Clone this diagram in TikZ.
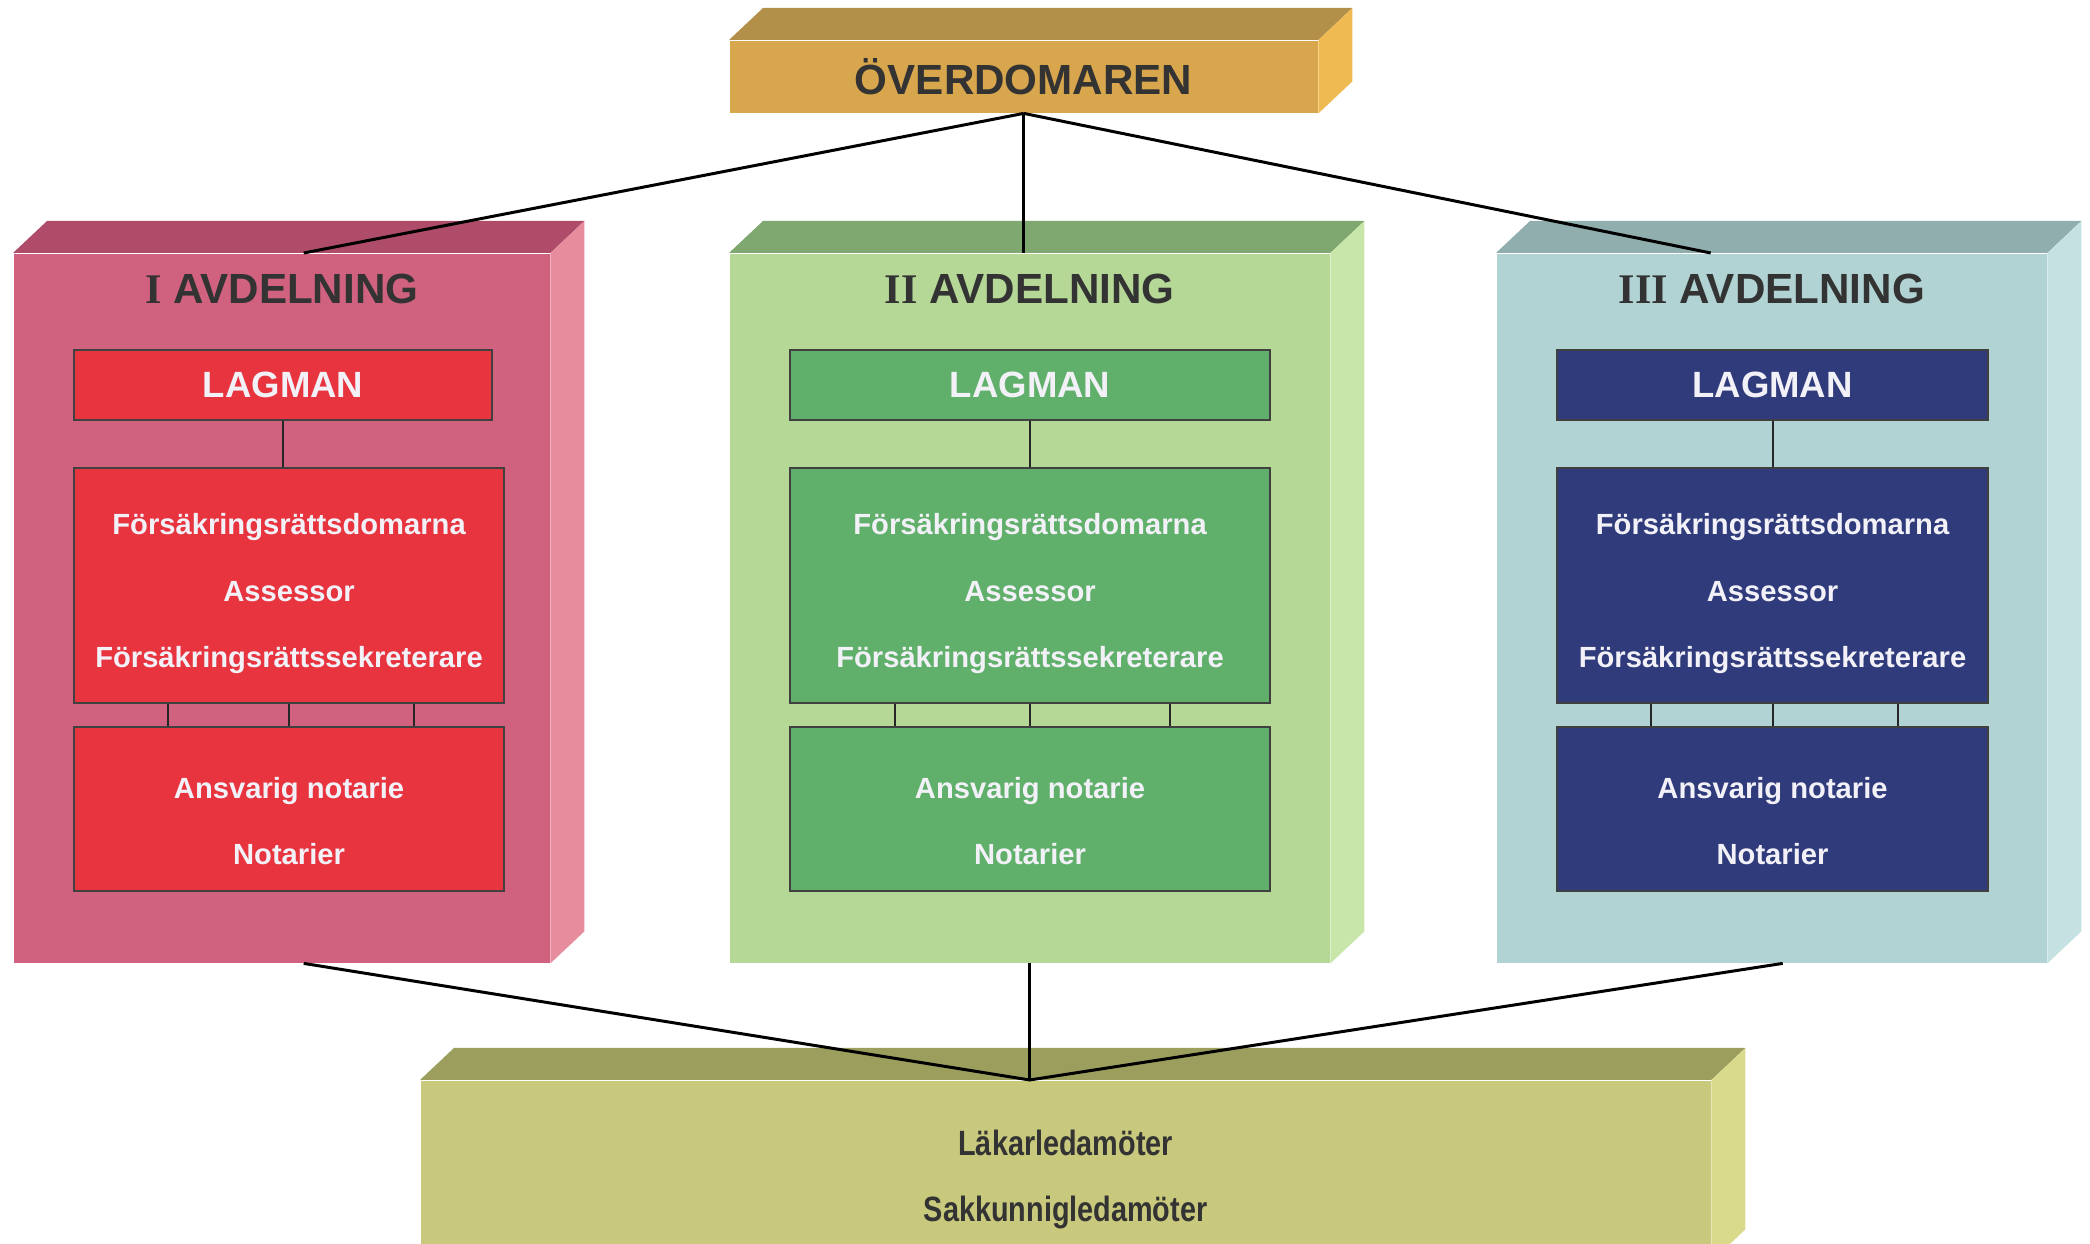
\documentclass[tikz,border=0pt]{standalone}
\usepackage{fontspec}
\setmainfont{Liberation Sans}
\newfontfamily\romanfont{Liberation Serif}
\newfontfamily\narrowfont[FakeStretch=0.82]{Liberation Sans}
\usetikzlibrary{positioning,calc}

\definecolor{goldfront}{HTML}{D8A64C}
\definecolor{goldtop}{HTML}{B39049}
\definecolor{goldside}{HTML}{F0BA52}
\definecolor{redfront}{HTML}{D0627F}
\definecolor{redtop}{HTML}{AE4C69}
\definecolor{redside}{HTML}{E68C9C}
\definecolor{redunit}{HTML}{E8343E}
\definecolor{greenfront}{HTML}{B5D897}
\definecolor{greentop}{HTML}{7FA770}
\definecolor{greenside}{HTML}{C8E6AA}
\definecolor{greenunit}{HTML}{60B06B}
\definecolor{bluefront}{HTML}{B2D3D3}
\definecolor{bluetop}{HTML}{8FAEAD}
\definecolor{blueside}{HTML}{C6E1E1}
\definecolor{blueunit}{HTML}{2F3B7B}
\definecolor{basefront}{HTML}{C9C97D}
\definecolor{basetop}{HTML}{9C9E5E}
\definecolor{baseside}{HTML}{DADA8C}
\definecolor{labelgray}{HTML}{333333}
\definecolor{unittext}{HTML}{F3F1F8}

\tikzset{
    block/.style={rectangle, inner sep=0pt, anchor=north west},
    unit/.style={rectangle, draw=black!75, line width=0.6pt, inner sep=0pt, anchor=north west,
        text=unittext, font=\bfseries\fontsize{10.4}{12}\selectfont},
    words/.style={text=unittext, align=center, inner sep=0pt, font=\bfseries\fontsize{8.3}{18.9}\selectfont},
    heading/.style={text=labelgray, font=\bfseries\fontsize{12}{14}\selectfont},
    wire/.style={black, line width=0.85pt},
    link/.style={black!85, line width=0.6pt},
}

\begin{document}
\begin{tikzpicture}[x=0.1mm, y=-0.1mm]
    \useasboundingbox (0,0) rectangle (2090,1244);
    \clip (0,0) rectangle (2090,1244);

    % overdomaren
    \node[block, fill=goldfront, minimum width=58.8mm, minimum height=7.2mm, heading] (top) at (729,40) {ÖVERDOMAREN};
    \fill[goldtop] (top.north west) -- ++(3.4mm,3.2mm) -- ($(top.north east)+(3.4mm,3.2mm)$) -- (top.north east) -- cycle;
    \fill[goldside] (top.north east) -- ++(3.4mm,3.2mm) -- ($(top.south east)+(3.4mm,3.2mm)$) -- (top.south east) -- cycle;

    % I avdelning
    \node[block, fill=redfront, minimum width=53.6mm, minimum height=70.9mm] (div1) at (13,253) {};
    \fill[redtop] (div1.north west) -- ++(3.4mm,3.2mm) -- ($(div1.north east)+(3.4mm,3.2mm)$) -- (div1.north east) -- cycle;
    \fill[redside] (div1.north east) -- ++(3.4mm,3.2mm) -- ($(div1.south east)+(3.4mm,3.2mm)$) -- (div1.south east) -- cycle;
    \node[heading] (head1) at ([yshift=-3.6mm]div1.north) {{\romanfont I} AVDELNING};
    \node[unit, fill=redunit, minimum width=41.8mm, minimum height=7mm] (lag1) at (73,349) {LAGMAN};
    \node[unit, fill=redunit, minimum width=43mm, minimum height=23.5mm] (dom1) at (73,467) {};
    \node[unit, fill=redunit, minimum width=43mm, minimum height=16.4mm] (not1) at (73,726) {};

    % II avdelning
    \node[block, fill=greenfront, minimum width=60mm, minimum height=70.9mm] (div2) at (729,253) {};
    \fill[greentop] (div2.north west) -- ++(3.4mm,3.2mm) -- ($(div2.north east)+(3.4mm,3.2mm)$) -- (div2.north east) -- cycle;
    \fill[greenside] (div2.north east) -- ++(3.4mm,3.2mm) -- ($(div2.south east)+(3.4mm,3.2mm)$) -- (div2.south east) -- cycle;
    \node[heading] (head2) at ([yshift=-3.6mm]div2.north) {{\romanfont II} AVDELNING};
    \node[unit, fill=greenunit, minimum width=48mm, minimum height=7mm] (lag2) at (789,349) {LAGMAN};
    \node[unit, fill=greenunit, minimum width=48mm, minimum height=23.5mm] (dom2) at (789,467) {};
    \node[unit, fill=greenunit, minimum width=48mm, minimum height=16.4mm] (not2) at (789,726) {};

    % III avdelning
    \node[block, fill=bluefront, minimum width=55mm, minimum height=70.9mm] (div3) at (1496,253) {};
    \fill[bluetop] (div3.north west) -- ++(3.4mm,3.2mm) -- ($(div3.north east)+(3.4mm,3.2mm)$) -- (div3.north east) -- cycle;
    \fill[blueside] (div3.north east) -- ++(3.4mm,3.2mm) -- ($(div3.south east)+(3.4mm,3.2mm)$) -- (div3.south east) -- cycle;
    \node[heading] (head3) at ([yshift=-3.6mm]div3.north) {{\romanfont III} AVDELNING};
    \node[unit, fill=blueunit, minimum width=43.1mm, minimum height=7mm] (lag3) at (1556,349) {LAGMAN};
    \node[unit, fill=blueunit, minimum width=43.1mm, minimum height=23.5mm] (dom3) at (1556,467) {};
    \node[unit, fill=blueunit, minimum width=43.1mm, minimum height=16.4mm] (not3) at (1556,726) {};

    % staff texts and links inside the divisions
    \foreach \i in {1,2,3} {
        \node[words] (staff\i) at ([yshift=-0.8mm]dom\i.center)
            {Försäkringsrättsdomarna\\Assessor\\Försäkringsrättssekreterare};
        \node[words] (clerks\i) at ([yshift=-1.2mm]not\i.center) {Ansvarig notarie\\Notarier};
        \draw[link] (lag\i.south) -- (lag\i.south |- dom\i.north);
        \foreach \f in {0.22,0.5,0.79}
            \draw[link] ($(dom\i.south west)!\f!(dom\i.south east)$) -- ($(not\i.north west)!\f!(not\i.north east)$);
    }

    % ledamoter
    \node[block, fill=basefront, minimum width=129mm, minimum height=18mm] (base) at (420,1080) {};
    \fill[basetop] (base.north west) -- ++(3.4mm,3.2mm) -- ($(base.north east)+(3.4mm,3.2mm)$) -- (base.north east) -- cycle;
    \fill[baseside] (base.north east) -- ++(3.4mm,3.2mm) -- ($(base.south east)+(3.4mm,3.2mm)$) -- (base.south east) -- cycle;
    \node[text=labelgray, align=center, font=\narrowfont\bfseries\fontsize{10}{18.9}\selectfont]
        (members) at ([yshift=-0.9mm]base.center) {Läkarledamöter\\Sakkunnigledamöter};

    % top wires
    \coordinate (in1) at ([xshift=2.2mm]div1.north);
    \coordinate (in3) at ([xshift=-6.1mm]div3.north);
    \draw[wire] (top.south) -- (in1);
    \draw[wire] (top.south) -- (top.south |- div2.north);
    \draw[wire] (top.south) -- (in3);

    % bottom wires
    \coordinate (out1) at ([xshift=2.2mm]div1.south);
    \coordinate (out3) at ([xshift=1.1mm]div3.south);
    \coordinate (meet) at (div2.south |- base.north);
    \draw[wire] (out1) -- (meet) -- (out3);
    \draw[wire] (div2.south) -- (meet);
\end{tikzpicture}
\end{document}
